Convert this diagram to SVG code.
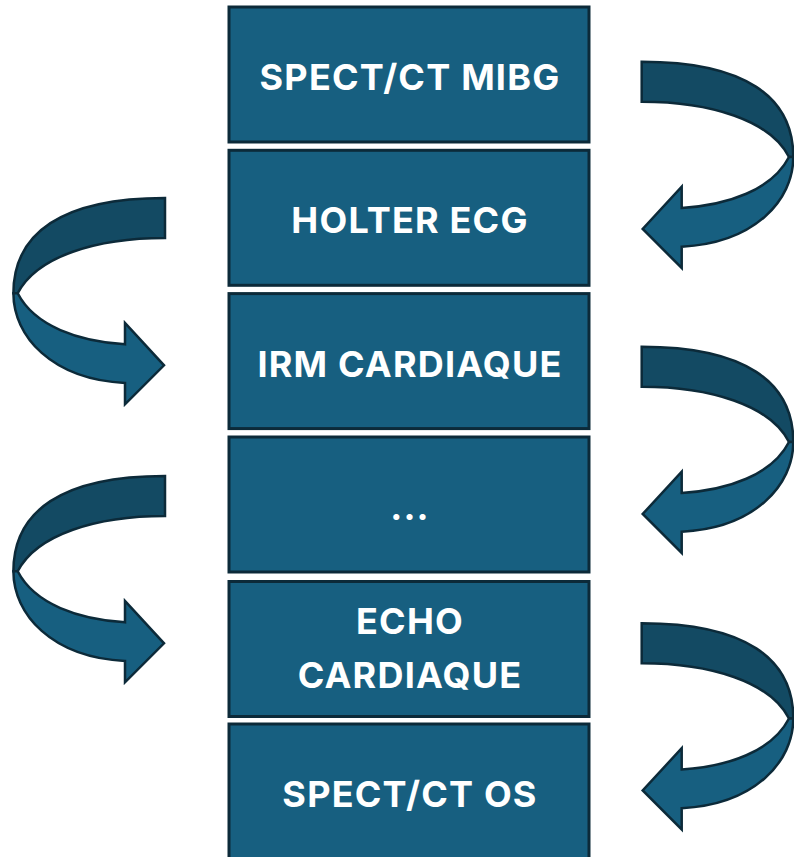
<svg xmlns="http://www.w3.org/2000/svg" width="794" height="857" viewBox="0 0 794 857">
<defs>
<style>
.box{fill:#175f80;stroke:#0c2a39;stroke-width:3}
.lbl{font-family:Inter,"Liberation Sans",sans-serif;font-weight:700;font-size:36px;letter-spacing:1.2px;fill:#ffffff;text-anchor:middle}
.dk{fill:#134a63;stroke:#0c2a39;stroke-width:2.5;stroke-linejoin:miter}
.lt{fill:#175f80;stroke:#0c2a39;stroke-width:2.5;stroke-linejoin:miter}
</style>
<g id="curl">
<path class="dk" d="M641.7,61.7 C745,61.7 793.3,97 793.3,157 L789,157 C770,120 710,101.7 641.7,101.7 Z"/>
<path class="lt" d="M793.3,157 C793.3,200 755,243 681.7,246.7 L681.7,268 L642.7,229 L681.7,186.7 L681.7,208 C728,205 772,190 789,157 Z"/>
</g>
</defs>
<rect width="794" height="857" fill="#ffffff"/>
<g id="n1"><rect class="box" x="229" y="7" width="360" height="135"/><text class="lbl" x="410" y="90">SPECT/CT MIBG</text></g>
<g id="n2"><rect class="box" x="229" y="150.3" width="360" height="135"/><text class="lbl" x="410" y="233.3">HOLTER ECG</text></g>
<g id="n3"><rect class="box" x="229" y="293.6" width="360" height="135"/><text class="lbl" x="410" y="376.6">IRM CARDIAQUE</text></g>
<g id="n4"><rect class="box" x="229" y="437" width="360" height="135"/><text class="lbl" x="410" y="520">...</text></g>
<g id="n5"><rect class="box" x="229" y="581.5" width="360" height="135"/><text class="lbl" x="410" y="634">ECHO</text><text class="lbl" x="410" y="688">CARDIAQUE</text></g>
<g id="n6"><rect class="box" x="229" y="724" width="360" height="135"/><text class="lbl" x="410" y="806.5">SPECT/CT OS</text></g>
<g id="connectors">
<use href="#curl"/>
<use href="#curl" transform="translate(0,285)"/>
<use href="#curl" transform="translate(0,561.5)"/>
<use href="#curl" transform="translate(806.7,136.3) scale(-1,1)"/>
<use href="#curl" transform="translate(806.7,414.3) scale(-1,1)"/>
</g>
</svg>
